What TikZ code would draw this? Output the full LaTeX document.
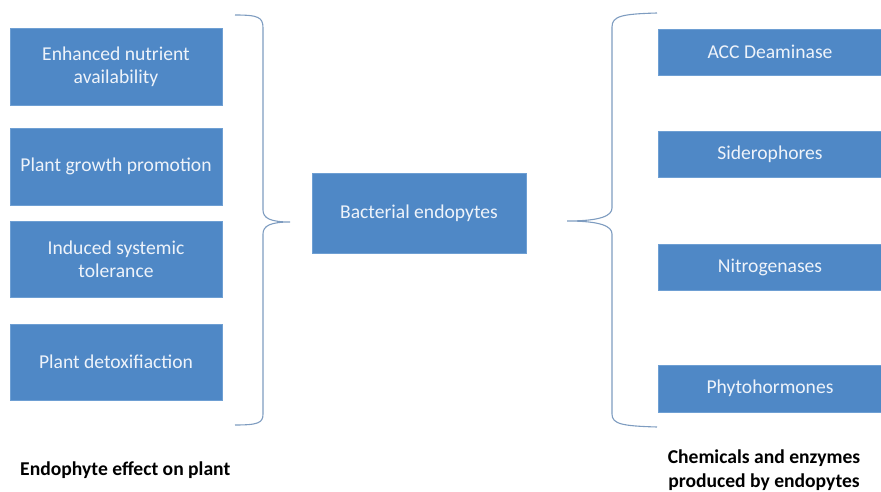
\documentclass[tikz,border=0pt]{standalone}
\usepackage{fontspec}
\setmainfont{Carlito}
\definecolor{boxblue}{HTML}{4F88C6}
\definecolor{boxedge}{HTML}{6E9FD3}
\definecolor{bracecol}{HTML}{7E9CC0}
\definecolor{boxtext}{HTML}{EEF3FA}
\begin{document}
\begin{tikzpicture}[x=1pt,y=-1pt,
  bbox/.style={draw=boxedge,line width=0.8pt,fill=boxblue,text=boxtext,align=center,
    font=\fontsize{19.6}{23}\selectfont,inner sep=2pt},
  brace/.style={draw=bracecol,line width=1.1pt},
  caption/.style={font=\bfseries\fontsize{19.6}{24}\selectfont,text=black,align=center}]
\useasboundingbox (0,0) rectangle (881,492);
\begin{scope}
\clip (0,0) rectangle (881,492);
% left boxes
\node[bbox,minimum width=212,minimum height=77] (l1) at (116,67) {Enhanced nutrient\\availability};
\node[bbox,minimum width=212,minimum height=77] (l2) at (116,166.5) {Plant growth promotion};
\node[bbox,minimum width=212,minimum height=76] (l3) at (116,259.5) {Induced systemic\\tolerance};
\node[bbox,minimum width=212,minimum height=76] (l4) at (116,362) {Plant detoxifiaction};
% centre
\node[bbox,minimum width=214,minimum height=80] (c) at (419,213) {Bacterial endopytes};
% right boxes
\node[bbox,minimum width=224,minimum height=46] (r1) at (770,52) {ACC Deaminase};
\node[bbox,minimum width=224,minimum height=46] (r2) at (770,154) {Siderophores};
\node[bbox,minimum width=224,minimum height=46] (r3) at (770,267) {Nitrogenases};
\node[bbox,minimum width=224,minimum height=47] (r4) at (770,388.5) {Phytohormones};
\end{scope}
% left brace
\coordinate (lbt) at (235,15);
\coordinate (lbm) at (290,222);
\coordinate (lbb) at (235,425);
\draw[brace] (lbt) .. controls (258,15) and (263,17) .. (263,28)
  -- (263,210) .. controls (263,218) and (270,222) .. (lbm)
  .. controls (270,222) and (263,226) .. (263,234)
  -- (263,414) .. controls (263,423) and (258,425) .. (lbb);
% right brace
\coordinate (rbt) at (657,13);
\coordinate (rbm) at (567,221);
\coordinate (rbb) at (657,427);
\draw[brace] (rbt) .. controls (622,14) and (612,16) .. (612,27)
  -- (612,208) .. controls (612,216) and (600,221) .. (rbm)
  .. controls (600,221) and (612,226) .. (612,234)
  -- (612,414) .. controls (612,424) and (622,426) .. (rbb);
% captions
\node[caption,anchor=west,inner sep=0pt] (capl) at (20,470) {Endophyte effect on plant};
\node[caption] (capr) at (764,470) {Chemicals and enzymes\\produced by endopytes};
\end{tikzpicture}
\end{document}
